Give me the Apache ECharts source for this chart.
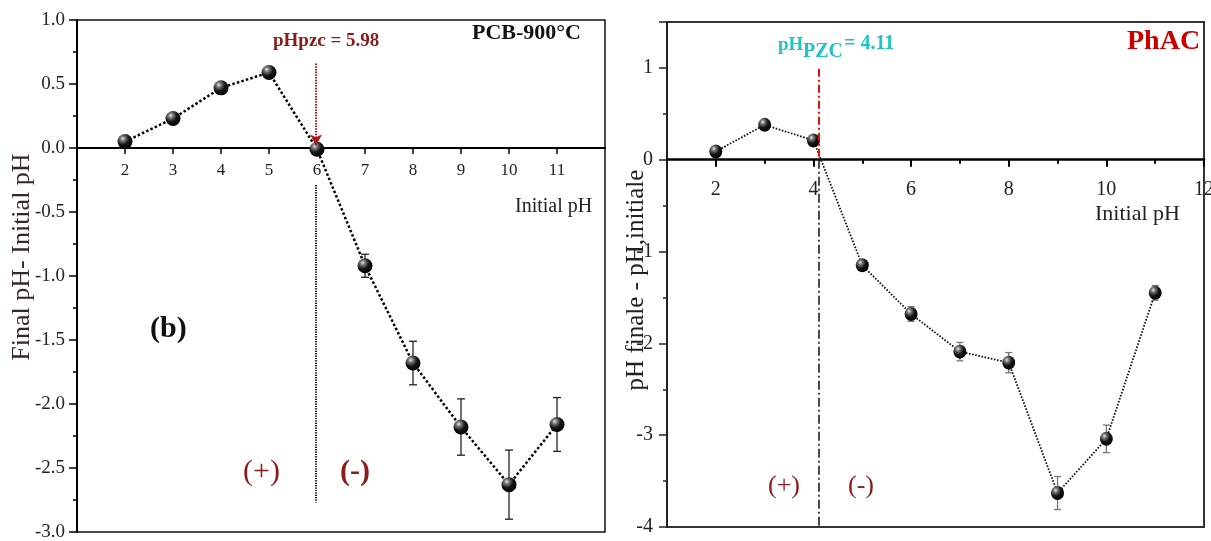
<!DOCTYPE html>
<html>
<head>
<meta charset="utf-8">
<script src="https://cdn.jsdelivr.net/npm/echarts@6/dist/echarts.min.js"></script>
<style>
  html, body { margin: 0; padding: 0; background: #fff; }
  #chart { width: 1211px; height: 541px; }
</style>
</head>
<body>
<div id="chart"></div>
<script>
// ---- PCB-900°C : pH drift (final pH - initial pH) ----
const phLeft = [2, 3, 4, 5, 6, 7, 8, 9, 10, 11];
const deltaLeft = [0.05, 0.23, 0.47, 0.59, -0.01, -0.92, -1.68, -2.18, -2.63, -2.16];
const errLeft = [0.02, 0.02, 0.02, 0.04, 0.02, 0.09, 0.17, 0.22, 0.27, 0.21];
const pzcLeft = 5.98;
const pzcLeftArrow = [0.66, 0.02];      // red pointer, from top down to the zero line
const pzcLeftGuide = [-0.29, -2.77];    // black guide below the axis
const leftXTicks = [2, 3, 4, 5, 6, 7, 8, 9, 10, 11];
const leftYRange = [-3, 1];

// ---- PhAC : pH drift ----
const phRight = [2, 3, 4, 5, 6, 7, 8, 9, 10, 11];
const deltaRight = [0.09, 0.38, 0.21, -1.15, -1.68, -2.09, -2.21, -3.63, -3.04, -1.45];
const errRight = [0.02, 0.02, 0.02, 0.05, 0.08, 0.10, 0.11, 0.18, 0.15, 0.08];
const pzcRight = 4.11;
const pzcRightRed = [0.99, 0];
const pzcRightBlack = [0, -4];
const rightXLabels = [2, 4, 6, 8, 10, 12];
const rightXMinor = [3, 5, 7, 9, 11];
const rightYRange = [-4, 1.5];

const SERIF = "'Liberation Serif', 'Times New Roman', serif";
const DARK_RED = '#8b1a1a';

// plot boxes
const GL = { left: 77, top: 20, width: 528, height: 512 };
const GR = { left: 667, top: 22, width: 537, height: 505 };

// the x axes sit on the y = 0 line: shift them from the grid edge by the zero position
const zeroFromBottom = (g, r) => g.height * (0 - r[0]) / (r[1] - r[0]);
const zeroFromTop = (g, r) => g.height * (r[1] - 0) / (r[1] - r[0]);

const chart = echarts.init(document.getElementById('chart'), null, { renderer: 'canvas' });

function ball() {
  return new echarts.graphic.RadialGradient(0.35, 0.3, 0.75, [
    { offset: 0, color: '#e6e6e6' },
    { offset: 0.22, color: '#777' },
    { offset: 0.55, color: '#151515' },
    { offset: 1, color: '#000' }
  ]);
}

function errorBars(xs, ys, es) {
  return xs.map((x, i) => [x, ys[i] - es[i], ys[i] + es[i]]);
}

function errorRenderer(color, width, cap) {
  return function (params, api) {
    const x = api.value(0);
    const lo = api.coord([x, api.value(1)]);
    const hi = api.coord([x, api.value(2)]);
    const st = { stroke: color, lineWidth: width };
    return {
      type: 'group',
      children: [
        { type: 'line', shape: { x1: lo[0], y1: lo[1], x2: hi[0], y2: hi[1] }, style: st },
        { type: 'line', shape: { x1: lo[0] - cap, y1: lo[1], x2: lo[0] + cap, y2: lo[1] }, style: st },
        { type: 'line', shape: { x1: hi[0] - cap, y1: hi[1], x2: hi[0] + cap, y2: hi[1] }, style: st }
      ]
    };
  };
}

const pairs = (xs, ys) => xs.map((x, i) => [x, ys[i]]);

const option = {
  animation: false,
  backgroundColor: '#fff',
  grid: [
    Object.assign({ show: true, borderColor: '#111', borderWidth: 1.5, backgroundColor: 'transparent',
      outerBoundsMode: 'none', containLabel: false }, GL),
    Object.assign({ show: true, borderColor: '#333', borderWidth: 2, backgroundColor: 'transparent',
      outerBoundsMode: 'none', containLabel: false }, GR)
  ],
  xAxis: [
    {
      gridIndex: 0, type: 'value', position: 'bottom', min: 1, max: 12, interval: 1,
      offset: -zeroFromBottom(GL, leftYRange),
      axisLine: { onZero: false, lineStyle: { color: '#000', width: 2 } },
      axisTick: { length: 6, customValues: leftXTicks, lineStyle: { color: '#000', width: 1.5 } },
      axisLabel: { customValues: leftXTicks, margin: 14, color: '#222', fontFamily: SERIF, fontSize: 17 },
      splitLine: { show: false }
    },
    {
      gridIndex: 1, type: 'value', position: 'bottom', min: 1, max: 12, interval: 1,
      offset: -zeroFromBottom(GR, rightYRange),
      axisLine: { onZero: false, lineStyle: { color: '#000', width: 2.5 } },
      axisTick: { length: 7, customValues: rightXLabels, lineStyle: { color: '#000', width: 2 } },
      axisLabel: { customValues: rightXLabels, margin: 20, color: '#222', fontFamily: SERIF, fontSize: 20 },
      splitLine: { show: false }
    },
    {
      gridIndex: 1, type: 'value', position: 'top', min: 1, max: 12, interval: 1,
      offset: -zeroFromTop(GR, rightYRange),
      axisLine: { show: false, onZero: false },
      axisTick: { inside: true, length: 4, customValues: rightXMinor, lineStyle: { color: '#000', width: 2 } },
      axisLabel: { show: false },
      splitLine: { show: false }
    }
  ],
  yAxis: [
    {
      gridIndex: 0, type: 'value', min: leftYRange[0], max: leftYRange[1], interval: 0.5,
      axisLine: { show: true, onZero: false, lineStyle: { color: '#000', width: 2 } },
      axisTick: { show: true, length: 8, lineStyle: { color: '#000', width: 1.5 } },
      minorTick: { show: true, splitNumber: 2, length: 4, lineStyle: { color: '#000', width: 1.5 } },
      axisLabel: { margin: 12, color: '#222', fontFamily: SERIF, fontSize: 19, formatter: v => v.toFixed(1) },
      splitLine: { show: false }
    },
    {
      gridIndex: 1, type: 'value', min: rightYRange[0], max: rightYRange[1], interval: 1,
      axisLine: { show: true, onZero: false, lineStyle: { color: '#222', width: 2 } },
      axisTick: { show: true, length: 8, lineStyle: { color: '#222', width: 1.5 } },
      minorTick: { show: true, splitNumber: 2, length: 4, lineStyle: { color: '#222', width: 1.5 } },
      axisLabel: { margin: 14, color: '#222', fontFamily: SERIF, fontSize: 20,
        formatter: v => (Number.isInteger(v) ? String(v) : '') },
      splitLine: { show: false }
    }
  ],
  series: [
    {
      type: 'custom', xAxisIndex: 0, yAxisIndex: 0, z: 2,
      renderItem: errorRenderer('#222', 1.3, 4),
      encode: { x: 0, y: [1, 2] },
      data: errorBars(phLeft, deltaLeft, errLeft)
    },
    {
      type: 'line', xAxisIndex: 0, yAxisIndex: 0, z: 3,
      data: pairs(phLeft, deltaLeft),
      symbol: 'circle', symbolSize: 15,
      itemStyle: { color: ball(), borderWidth: 0 },
      lineStyle: { color: '#000', width: 2.5, type: [2.5, 2.2] },
      markLine: {
        silent: true, animation: false, precision: 4,
        label: { show: false },
        symbol: ['none', 'none'],
        data: [
          [
            { coord: [pzcLeft, pzcLeftArrow[0]], symbol: 'none',
              lineStyle: { color: '#b01818', width: 2, type: [1.5, 1.2] } },
            { coord: [pzcLeft, pzcLeftArrow[1]], symbol: 'arrow', symbolSize: [9, 11] }
          ],
          [
            { coord: [pzcLeft, pzcLeftGuide[0]], symbol: 'none',
              lineStyle: { color: '#111', width: 2, type: [1.2, 1.2] } },
            { coord: [pzcLeft, pzcLeftGuide[1]], symbol: 'none' }
          ]
        ]
      }
    },
    {
      type: 'custom', xAxisIndex: 1, yAxisIndex: 1, z: 2,
      renderItem: errorRenderer('#777', 1.3, 3.5),
      encode: { x: 0, y: [1, 2] },
      data: errorBars(phRight, deltaRight, errRight)
    },
    {
      type: 'line', xAxisIndex: 1, yAxisIndex: 1, z: 3,
      data: pairs(phRight, deltaRight),
      symbol: 'circle', symbolSize: [13, 14],
      itemStyle: { color: ball(), borderWidth: 0 },
      lineStyle: { color: '#111', width: 1.8, type: [1.6, 1.6] },
      markLine: {
        silent: true, animation: false, precision: 4,
        label: { show: false },
        symbol: ['none', 'none'],
        data: [
          [
            { coord: [pzcRight, pzcRightRed[0]], lineStyle: { color: '#e01010', width: 2, type: [8, 3, 2, 3] } },
            { coord: [pzcRight, pzcRightRed[1]] }
          ],
          [
            { coord: [pzcRight, pzcRightBlack[0]], lineStyle: { color: '#111', width: 1.5, type: [9, 3, 2, 3] } },
            { coord: [pzcRight, pzcRightBlack[1]] }
          ]
        ]
      }
    }
  ],
  graphic: [
    // left panel annotations
    { type: 'text', left: 273, top: 32, style: { text: 'pHpzc = ' + pzcLeft.toFixed(2), fill: DARK_RED, font: 'bold 19px ' + SERIF } },
    { type: 'text', left: 472, top: 22, style: { text: 'PCB-900°C', fill: '#111', font: 'bold 22px ' + SERIF } },
    { type: 'text', left: 515, top: 197, style: { text: 'Initial pH', fill: '#222', font: '20px ' + SERIF } },
    { type: 'text', left: 150, top: 314, style: { text: '(b)', fill: '#111', font: 'bold 30px ' + SERIF } },
    { type: 'text', left: 243, top: 457, style: { text: '(+)', fill: DARK_RED, font: '30px ' + SERIF } },
    { type: 'text', left: 340, top: 457, style: { text: '(-)', fill: DARK_RED, font: 'bold 30px ' + SERIF } },
    { type: 'text', x: 22, y: 257, rotation: Math.PI / 2,
      style: { text: 'Final pH- Initial pH', fill: '#3a2626', font: '26px ' + SERIF, align: 'center', verticalAlign: 'middle' } },
    // right panel annotations
    { type: 'text', left: 778, top: 36, style: { text: 'pH', fill: '#1fc4c4', font: 'bold 19px ' + SERIF } },
    { type: 'text', left: 803, top: 42, style: { text: 'PZC', fill: '#1fc4c4', font: 'bold 20px ' + SERIF } },
    { type: 'text', left: 844, top: 34, style: { text: '= ' + pzcRight.toFixed(2), fill: '#1fc4c4', font: 'bold 20px ' + SERIF } },
    { type: 'text', left: 1127, top: 28, style: { text: 'PhAC', fill: '#cc0000', font: 'bold 28px ' + SERIF } },
    { type: 'text', left: 1095, top: 203, style: { text: 'Initial pH', fill: '#222', font: '22px ' + SERIF } },
    { type: 'text', left: 768, top: 473, style: { text: '(+)', fill: DARK_RED, font: '26px ' + SERIF } },
    { type: 'text', left: 848, top: 473, style: { text: '(-)', fill: DARK_RED, font: '26px ' + SERIF } },
    { type: 'text', x: 636, y: 280, rotation: Math.PI / 2,
      style: { text: 'pH finale - pH,initiale', fill: '#222', font: '25px ' + SERIF, align: 'center', verticalAlign: 'middle' } }
  ]
};

chart.setOption(option);
</script>
</body>
</html>
